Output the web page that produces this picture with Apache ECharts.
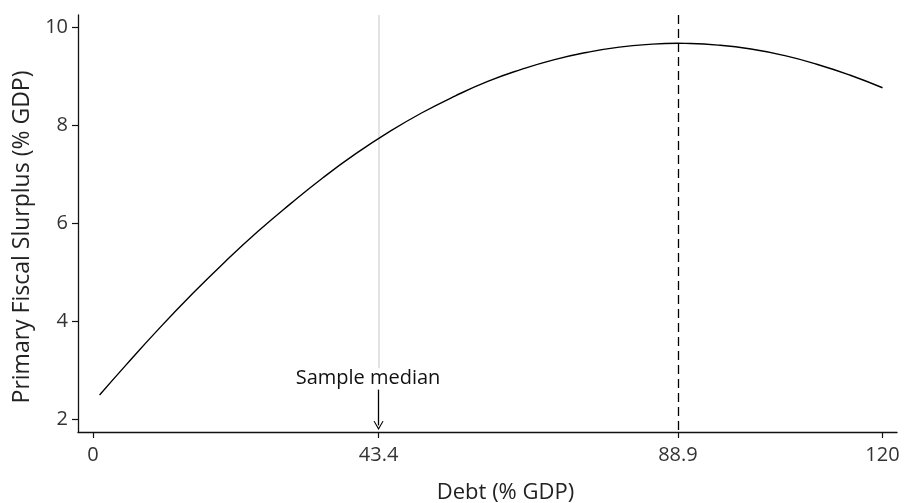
<!DOCTYPE html>
<html>
<head>
<meta charset="utf-8">
<script src="https://cdn.jsdelivr.net/npm/echarts@6/dist/echarts.min.js"></script>
<style>
html,body{margin:0;padding:0;background:#fff;}
#chart{width:905px;height:503px;}
</style>
</head>
<body>
<div id="chart"></div>
<script>
// Debt (% GDP) values along the fitted curve
var debt = [1, 5, 10, 15, 20, 25, 30, 35, 40, 45, 50, 55, 60, 65, 70, 75, 80, 85, 88.9, 90, 95, 100, 105, 110, 115, 120];
// Primary fiscal surplus (% GDP)
var surplus = [2.49, 3.10, 3.84, 4.54, 5.20, 5.82, 6.39, 6.93, 7.42, 7.86, 8.25, 8.59, 8.89, 9.13, 9.33, 9.48, 9.59, 9.65, 9.667, 9.665, 9.63, 9.55, 9.42, 9.24, 9.02, 8.76];
var xTicks = [0, 43.4, 88.9, 120];
var yTicks = [2, 4, 6, 8, 10];
var medianDebt = 43.4;
var turningPoint = 88.9;
var medianLabel = 'Sample median';

var FONT = 'Open Sans';
var pts = debt.map(function (d, i) { return [d, surplus[i]]; });

var chart = echarts.init(document.getElementById('chart'), null, {renderer: 'canvas'});
chart.setOption({
  animation: false,
  backgroundColor: '#ffffff',
  grid: {left: 78, right: 8, top: 15, bottom: 71, containLabel: false, outerBoundsMode: 'none'},
  xAxis: {
    type: 'value',
    min: -2.28,
    max: 122.2,
    name: 'Debt (% GDP)',
    nameLocation: 'middle',
    nameGap: 50,
    nameTextStyle: {fontFamily: FONT, fontSize: 22, color: '#222', padding: [0, 0, 0, 36]},
    axisLine: {show: true, onZero: false, lineStyle: {color: '#111', width: 1.3}},
    axisTick: {show: true, customValues: xTicks, length: 6, lineStyle: {color: '#111', width: 1.2}},
    axisLabel: {customValues: xTicks, fontFamily: FONT, fontSize: 20, color: '#333', margin: 13,
      formatter: function (v) { return String(v); }},
    splitLine: {show: false}
  },
  yAxis: {
    type: 'value',
    min: 1.735,
    max: 10.245,
    name: 'Primary Fiscal Slurplus (% GDP)',
    nameLocation: 'middle',
    nameGap: 41,
    nameTextStyle: {fontFamily: FONT, fontSize: 23, color: '#222', padding: [0, 27, 0, 0]},
    axisLine: {show: true, onZero: false, lineStyle: {color: '#111', width: 1.3}},
    axisTick: {show: true, customValues: yTicks, length: 6, lineStyle: {color: '#111', width: 1.2}},
    axisLabel: {customValues: yTicks, fontFamily: FONT, fontSize: 20, color: '#333', margin: 10},
    splitLine: {show: false}
  },
  series: [
    {
      type: 'line',
      data: pts,
      smooth: true,
      showSymbol: false,
      symbol: 'none',
      lineStyle: {color: '#000', width: 1.4},
      z: 5,
      markLine: {
        silent: true,
        symbol: ['none', 'none'],
        animation: false,
        label: {show: false},
        data: [
          [{coord: [medianDebt, 10.245], lineStyle: {color: '#d9d9d9', width: 1.5, type: 'solid'}},
           {coord: [medianDebt, 3.04]}],
          [{coord: [turningPoint, 10.245], lineStyle: {color: '#000', width: 1.3, type: [9, 5]}},
           {coord: [turningPoint, 1.735]}],
          [{coord: [medianDebt, 2.6], lineStyle: {color: '#000', width: 1.3, type: 'solid'},
            symbol: 'none'},
           {coord: [medianDebt, 1.87], symbol: 'path://M5,0 L10,9 L9,9.5 L5,2.2 L1,9.5 L0,9 Z', symbolSize: [10, 9]}]
        ]
      },
      markPoint: {
        silent: true,
        symbol: 'circle',
        symbolSize: 0,
        data: [{coord: [41.8, 2.84], value: medianLabel}],
        label: {show: true, position: 'inside', formatter: medianLabel,
          fontFamily: FONT, fontSize: 20, color: '#111'}
      }
    }
  ]
});
</script>
</body>
</html>
